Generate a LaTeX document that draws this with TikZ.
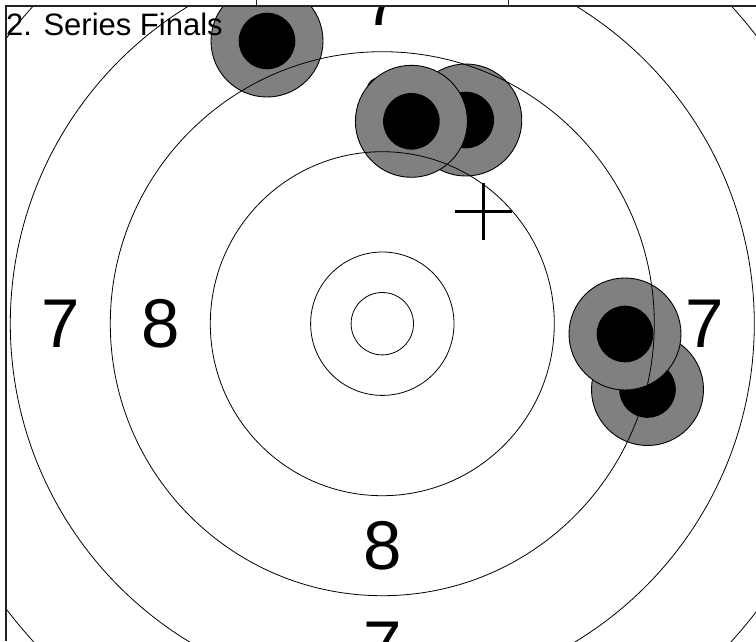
\documentclass[tikz,border=0pt]{standalone}
\usepackage{fontspec}
\setmainfont{Liberation Sans}
\definecolor{shotgray}{RGB}{128,128,128}
\definecolor{framegray}{RGB}{34,34,34}
\begin{document}
\begin{tikzpicture}[x=1pt,y=-1pt,
  ring/.style={draw=black,line width=0.8pt},
  shotouter/.style={circle,draw=black,line width=0.9pt,fill=shotgray,minimum size=112pt,inner sep=0pt},
  shotinner/.style={circle,fill=black,minimum size=56.6pt,inner sep=0pt},
  ringnum/.style={inner sep=0pt,font=\fontsize{69}{69}\selectfont},
  frameline/.style={draw=framegray,line width=1.8pt},
  tickline/.style={draw=framegray,line width=1pt},
  crossline/.style={draw=black,line width=2.7pt}]
\useasboundingbox (0,0) rectangle (756,641);
\coordinate (c) at (382.3,323.7);
\begin{scope}
  \clip (6,6) rectangle (756,641);
  % ring numbers
  \node[ringnum] (n7w) at (60.3,323.7) {7};
  \node[ringnum] (n7e) at (704.3,323.7) {7};
  \node[ringnum] (n7n) at (382.3,1.7) {7};
  \node[ringnum] (n7s) at (382.3,645.7) {7};
  \node[ringnum] (n8w) at (160.3,323.7) {8};
  \node[ringnum] (n8e) at (604.3,323.7) {8};
  \node[ringnum] (n8n) at (382.3,101.7) {8};
  \node[ringnum] (n8s) at (382.3,545.7) {8};
  % shots
  \node[shotouter] (s1o) at (267,41) {};
  \node[shotinner] (s1i) at (267,41) {};
  \node[shotouter] (s2o) at (465.8,120) {};
  \node[shotinner] (s2i) at (465.8,120) {};
  \node[shotouter] (s3o) at (411.4,121.3) {};
  \node[shotinner] (s3i) at (411.4,121.3) {};
  \node[shotouter] (s4o) at (647.5,389.5) {};
  \node[shotinner] (s4i) at (647.5,389.5) {};
  \node[shotouter] (s5o) at (625,334) {};
  \node[shotinner] (s5i) at (625,334) {};
  % rings
  \draw[ring] (c) circle[radius=31.2pt];
  \draw[ring] (c) circle[radius=71.7pt];
  \draw[ring] (c) circle[radius=172pt];
  \draw[ring] (c) circle[radius=272pt];
  \draw[ring] (c) circle[radius=372pt];
  \draw[ring] (c) circle[radius=472pt];
\end{scope}
% cross (mean point)
\coordinate (m) at (483.2,211.3);
\coordinate (mw) at (454.5,211.3);
\coordinate (me) at (511.9,211.3);
\coordinate (mn) at (483.2,182.6);
\coordinate (ms) at (483.2,240);
\draw[crossline] (mw) -- (me);
\draw[crossline] (mn) -- (ms);
% frame
\coordinate (tl) at (5.8,5.8);
\coordinate (tr) at (756,5.8);
\coordinate (bl) at (5.8,641);
\draw[frameline] (tr) -- (tl) -- (bl);
\coordinate (t1a) at (256.7,0);
\coordinate (t1b) at (256.7,5.8);
\coordinate (t2a) at (508.3,0);
\coordinate (t2b) at (508.3,5.8);
\draw[tickline] (t1a) -- (t1b);
\draw[tickline] (t2a) -- (t2b);
% title
\node[anchor=base west,inner sep=0pt,font=\fontsize{31}{31}\selectfont] (title) at (6,35) {2. Series Finals};
\end{tikzpicture}
\end{document}
